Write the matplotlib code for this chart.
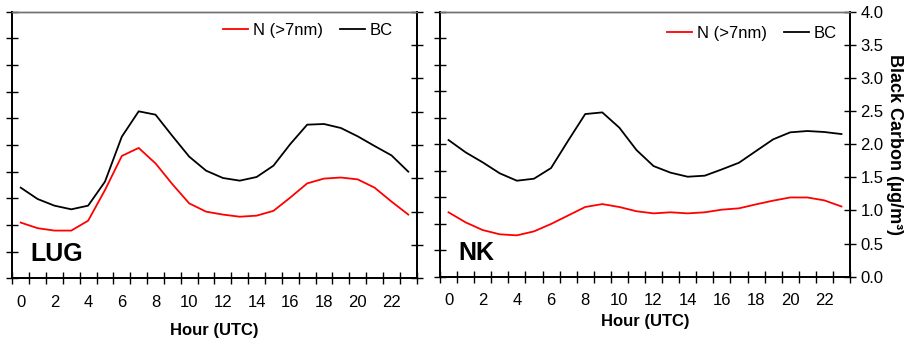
import matplotlib
matplotlib.use("Agg")
import matplotlib.pyplot as plt
import numpy as np

plt.rcParams['font.family'] = ['Liberation Sans', 'DejaVu Sans']

hours = list(range(24))
xtick_labels = [str(h) for h in range(0, 24, 2)]

# LUG
lug_n = [2.09, 1.88, 1.79, 1.79, 2.16, 3.31, 4.59, 4.89, 4.31, 3.53, 2.81, 2.50,
         2.39, 2.31, 2.35, 2.53, 3.03, 3.56, 3.74, 3.78, 3.71, 3.40, 2.88, 2.39]
lug_bc = [1.36, 1.19, 1.09, 1.035, 1.09, 1.45, 2.125, 2.505, 2.455, 2.135, 1.825, 1.615,
          1.505, 1.465, 1.52, 1.69, 2.015, 2.305, 2.315, 2.255, 2.13, 1.985, 1.845, 1.60]
# NK
nk_n = [2.43, 2.05, 1.76, 1.60, 1.56, 1.71, 1.99, 2.31, 2.63, 2.74, 2.63, 2.47,
        2.39, 2.43, 2.39, 2.43, 2.53, 2.58, 2.73, 2.87, 2.99, 2.99, 2.88, 2.65]
nk_bc = [2.063, 1.877, 1.726, 1.56, 1.449, 1.479, 1.64, 2.053, 2.455, 2.48, 2.249, 1.912,
         1.67, 1.57, 1.509, 1.525, 1.62, 1.72, 1.897, 2.073, 2.179, 2.199, 2.184, 2.153]

site_names = ["LUG", "NK"]
n_label = "N (>7nm)"
bc_label = "BC"
x_label = "Hour (UTC)"
bc_axis_label = "Black Carbon (µg/m³)"
bc_ticks = np.arange(0, 4.01, 0.5)

fig = plt.figure(figsize=(9.09, 3.4), dpi=100)
W, H = 909, 340

def rect(x0, x1, y0, y1):
    return [x0 / W, 1 - y1 / H, (x1 - x0) / W, (y1 - y0) / H]

rects = [rect(12.3, 416.7, 11.7, 278.3), rect(440, 850, 11.7, 276.7)]
leg_pos = [(0.941, 0.929), (0.9676, 0.9185)]
xlab_pad = [9.5, 4.0]
datasets = [(lug_n, lug_bc), (nk_n, nk_bc)]

for i, (r, (nv, bv)) in enumerate(zip(rects, datasets)):
    ax = fig.add_axes(r)
    ax2 = ax.twinx()
    l1, = ax.plot(hours, nv, color='#ff0000', lw=1.3, label=n_label)
    l2, = ax2.plot(hours, bv, color='black', lw=1.3, label=bc_label)
    ax.set_xlim(-0.5, 23.5)
    ax.set_ylim(0, 10)
    ax2.set_ylim(0, 4)
    ax.set_yticks(range(0, 11))
    ax.set_yticklabels([])
    ax2.set_yticks(bc_ticks)
    if i == 1:
        ax2.set_yticklabels([f"{t:.1f}" for t in bc_ticks])
        ax2.set_ylabel(bc_axis_label, rotation=270, fontweight='bold', fontsize=13,
                       labelpad=14)
    else:
        ax2.set_yticklabels([])
    ax.set_xticks(range(0, 24, 2))
    ax.set_xticklabels(xtick_labels)
    ax.set_xticks(np.arange(-0.5, 23.6, 1), minor=True)
    ax.tick_params(axis='x', which='major', length=0, labelsize=12, pad=12)
    ax.tick_params(axis='x', which='minor', direction='inout', length=9, width=1.0)
    ax.tick_params(axis='y', which='major', direction='inout', length=9, width=1.0)
    ax2.tick_params(axis='y', which='major', direction='inout', length=9, width=1.0,
                    labelsize=12, pad=3)
    ax.set_xlabel(x_label, fontweight='bold', fontsize=12, labelpad=xlab_pad[i])
    for a in (ax, ax2):
        for s in ('left', 'right', 'bottom'):
            a.spines[s].set_linewidth(1.3)
            a.spines[s].set_color('black')
        a.spines['top'].set_color('#707070')
        a.spines['top'].set_linewidth(1.0)
    ax.text(0.045, 0.045, site_names[i], transform=ax.transAxes, fontsize=18,
            fontweight='bold', ha='left', va='bottom')
    ax2.legend([l1, l2], [n_label, bc_label], loc='center right',
               bbox_to_anchor=leg_pos[i], frameon=False, ncol=2, fontsize=12,
               handlelength=1.5, handletextpad=0.3, columnspacing=1.0,
               borderpad=0, borderaxespad=0)

fig.savefig("out.png", dpi=100)
